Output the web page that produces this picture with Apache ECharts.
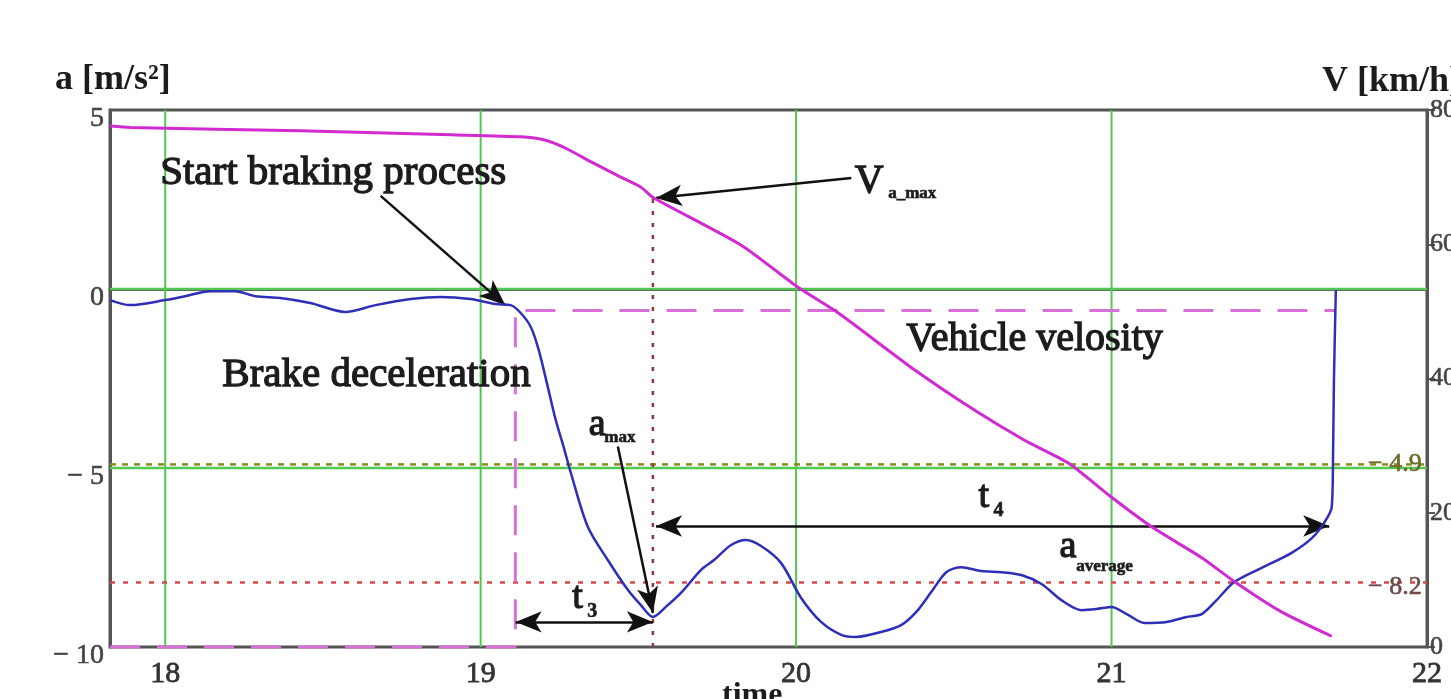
<!DOCTYPE html>
<html>
<head>
<meta charset="utf-8">
<script src="https://cdn.jsdelivr.net/npm/echarts@6/dist/echarts.min.js"></script>
<style>
  html, body { margin: 0; padding: 0; background: #ffffff; }
  #chart { width: 1451px; height: 699px; }
</style>
</head>
<body>
<div id="chart"></div>
<script>
// ---- time axis [s] ----
const timeMin = 17.825;
const timeMax = 22;
const timeTicks = [18, 19, 20, 21, 22];
const timeGridLines = [18, 19, 20, 21];

// ---- brake deceleration a [m/s²] ----
const accelTime = [17.825, 17.889, 18.0, 18.063, 18.143, 18.222, 18.286, 18.365, 18.46, 18.571,
  18.667, 18.778, 18.873, 18.968, 19.048, 19.095, 19.127, 19.159, 19.184, 19.213,
  19.238, 19.263, 19.286, 19.34, 19.403, 19.467, 19.508, 19.546, 19.587, 19.635,
  19.698, 19.74, 19.794, 19.841, 19.889, 19.952, 20.016, 20.079, 20.143, 20.19,
  20.27, 20.333, 20.381, 20.429, 20.476, 20.524, 20.587, 20.651, 20.714, 20.778,
  20.841, 20.905, 20.952, 21.0, 21.048, 21.105, 21.175, 21.238, 21.286, 21.333,
  21.39, 21.476, 21.571, 21.635, 21.673, 21.698, 21.702, 21.705, 21.711];
const accelValue = [-0.31, -0.45, -0.31, -0.2, -0.06, -0.06, -0.2, -0.25, -0.39, -0.64,
  -0.45, -0.28, -0.22, -0.28, -0.42, -0.45, -0.67, -1.06, -1.7, -2.74,
  -3.66, -4.41, -5.14, -6.65, -7.57, -8.41, -8.83, -9.16, -8.88, -8.49,
  -7.85, -7.57, -7.15, -7.01, -7.18, -7.65, -8.63, -9.3, -9.66, -9.72,
  -9.58, -9.39, -9.02, -8.46, -7.91, -7.77, -7.88, -7.91, -7.99, -8.24,
  -8.69, -8.97, -8.94, -8.88, -9.08, -9.33, -9.3, -9.16, -9.08, -8.69,
  -8.18, -7.79, -7.37, -6.96, -6.54, -6.09, -4.78, -2.54, -0.03];

// ---- vehicle velocity V [km/h] ----
const speedTime = [17.825, 17.889, 18.429, 18.905, 19.127, 19.206, 19.27, 19.349, 19.444, 19.508,
  19.549, 19.825, 20.006, 20.133, 20.375, 20.565, 20.724, 20.863, 21.0, 21.127,
  21.286, 21.397, 21.54, 21.698];
const speedValue = [77.6, 77.4, 76.9, 76.3, 76.0, 75.5, 74.3, 72.3, 70.0, 68.5,
  66.9, 59.9, 53.6, 49.8, 41.3, 35.3, 30.8, 27.4, 22.3, 17.9,
  13.3, 9.5, 5.2, 1.6];

// ---- characteristic values ----
const brakeStartTime = 19.11;     // start of the braking process
const brakeEndTime = 21.71;
const brakeThreshold = -0.6;      // a level marking the braking window
const aMaxTime = 19.546;          // instant of maximum deceleration
const vAtAMax = 66.9;             // velocity at that instant
const levelMarks = [-4.9, -8.2];  // marked deceleration levels
const accelGridLines = [0, -5];

const zip = (xs, ys) => xs.map((x, i) => [x, ys[i]]);

const SERIF = '"Liberation Serif", "DejaVu Serif", serif';
const GREEN = '#52c852';
const MAGENTA = '#d12ad1';
const BLUE = '#2e2eb8';

function refSeries(points, lineStyle, yAxisIndex, z) {
  return {
    type: 'line', data: points, yAxisIndex: yAxisIndex || 0, z: z || 1,
    showSymbol: false, symbol: 'none', silent: true, clip: false,
    lineStyle: Object.assign({ width: 2 }, lineStyle)
  };
}

const series = [];
// green grid
timeGridLines.forEach(t => series.push(refSeries([[t, -10], [t, 5]], { color: GREEN, width: 2 }, 0, 1)));
accelGridLines.forEach(a => series.push(refSeries([[timeMin, a], [timeMax, a]], { color: GREEN, width: 2.5 }, 0, 1)));
// marked levels
series.push(refSeries([[timeMin, levelMarks[0]], [timeMax, levelMarks[0]]],
  { color: '#8c8a1e', width: 2.5, type: [6, 6] }, 0, 2));
series.push(refSeries([[timeMin, levelMarks[1]], [timeMax, levelMarks[1]]],
  { color: '#d44a4a', width: 2.5, type: [5, 8] }, 0, 2));
// vertical at the maximum deceleration, up to the velocity curve
series.push(refSeries([[aMaxTime, 0], [aMaxTime, vAtAMax]],
  { color: '#8e3a3a', width: 2.5, type: [4, 8] }, 1, 2));
// braking window (magenta dashed)
series.push(refSeries([[timeMin, -10], [brakeStartTime, -10], [brakeStartTime, brakeThreshold], [brakeEndTime, brakeThreshold]],
  { color: '#d870d8', width: 3, type: [30, 17] }, 0, 3));

// measured curves
series.push({
  name: 'Brake deceleration', type: 'line', data: zip(accelTime, accelValue),
  yAxisIndex: 0, z: 5, showSymbol: false, symbol: 'none', smooth: 0.3,
  lineStyle: { color: BLUE, width: 2.5 }
});
series.push({
  name: 'Vehicle velosity', type: 'line', data: zip(speedTime, speedValue),
  yAxisIndex: 1, z: 5, showSymbol: false, symbol: 'none', smooth: 0.2,
  lineStyle: { color: MAGENTA, width: 3 }
});

// annotation arrows, in (time, a) units
const arrowSingle = (from, to) => [{ coord: from, symbol: 'none' }, { coord: to, symbol: 'arrow' }];
const arrowDouble = (from, to) => [{ coord: from, symbol: 'arrow' }, { coord: to, symbol: 'arrow' }];
series.push({
  type: 'line', data: [], yAxisIndex: 0, z: 6, silent: true,
  markLine: {
    silent: true, animation: false, precision: 4,
    symbolSize: [16, 26],
    label: { show: false },
    lineStyle: { color: '#111', width: 2.5, type: 'solid' },
    emphasis: { disabled: true },
    data: [
      arrowSingle([18.683, 2.60], [19.078, -0.45]),
      arrowSingle([20.175, 3.10], [19.556, 2.54]),
      arrowSingle([19.435, -4.40], [19.546, -9.05]),
      arrowDouble([19.111, -9.30], [19.546, -9.30]),
      arrowDouble([19.556, -6.62], [21.69, -6.62])
    ]
  }
});

const chart = echarts.init(document.getElementById('chart'), null, { renderer: 'canvas' });

const minusFmt = v => (v < 0 ? '\u2212 ' + Math.abs(v) : String(v));

chart.setOption({
  animation: false,
  backgroundColor: '#ffffff',
  grid: {
    left: 110, right: 24, top: 110, bottom: 52, containLabel: false, outerBoundsMode: 'none',
    show: true, borderColor: '#555', borderWidth: 3
  },
  xAxis: {
    type: 'value', min: timeMin, max: timeMax,
    axisLine: { show: true, lineStyle: { color: '#555', width: 3 } },
    axisTick: { show: false },
    splitLine: { show: false },
    axisLabel: {
      customValues: timeTicks, color: '#333', fontFamily: SERIF, fontSize: 30, margin: 12,
      textBorderColor: '#333', textBorderWidth: 0.8
    }
  },
  yAxis: [
    {
      type: 'value', min: -10, max: 5, interval: 5, position: 'left',
      axisLine: { show: true, onZero: false, lineStyle: { color: '#555', width: 3 } },
      axisTick: { show: false },
      splitLine: { show: false },
      axisLabel: {
        color: '#444', fontFamily: SERIF, fontSize: 28, margin: 6,
        formatter: minusFmt, verticalAlign: 'top', lineHeight: 18,
        textBorderColor: '#444', textBorderWidth: 0.6
      }
    },
    {
      type: 'value', min: 0, max: 80, interval: 20, position: 'right',
      axisLine: { show: true, onZero: false, lineStyle: { color: '#555', width: 3 } },
      axisTick: { show: true, inside: false, length: 8, lineStyle: { color: '#555', width: 2 } },
      splitLine: { show: false },
      axisLabel: {
        color: '#444', fontFamily: SERIF, fontSize: 26, margin: 3,
        textBorderColor: '#444', textBorderWidth: 0.6
      }
    }
  ],
  series: series
});

// ---- text annotations placed in (time, a) units ----
const toPx = (t, a) => chart.convertToPixel({ xAxisIndex: 0, yAxisIndex: 0 }, [t, a]);
const INK = '#1c1c1c';

function dataText(t, a, text, size, opts) {
  const p = toPx(t, a);
  const o = opts || {};
  return {
    type: 'text', x: p[0], y: p[1], z: 20, silent: true,
    style: {
      text: text, fill: o.fill || INK, fontFamily: SERIF, fontSize: size,
      fontWeight: o.weight || 'normal', align: o.align || 'left', verticalAlign: 'middle',
      stroke: o.stroke || INK, lineWidth: o.lineWidth == null ? 1.3 : o.lineWidth
    }
  };
}
function pxText(x, y, text, size, opts) {
  const o = opts || {};
  return {
    type: 'text', x: x, y: y, z: 20, silent: true,
    style: {
      text: text, fill: INK, fontFamily: SERIF, fontSize: size,
      fontWeight: o.weight || 'bold', align: 'left', verticalAlign: o.va || 'middle'
    }
  };
}

chart.setOption({
  graphic: [
    pxText(55, 80, 'a [m/s\u00B2]', 36),
    pxText(1322, 82, 'V [km/h]', 36),
    pxText(722, 680, 'time', 32, { va: 'top' }),
    dataText(17.984, 3.24, 'Start braking process', 41),
    dataText(18.181, -2.40, 'Brake deceleration', 41),
    dataText(20.349, -1.42, 'Vehicle velosity', 40),
    dataText(20.186, 2.99, 'V', 40),
    dataText(20.292, 2.66, 'a_max', 17, { weight: 'bold', lineWidth: 0.6 }),
    dataText(19.343, -3.80, 'a', 38),
    dataText(19.392, -4.14, 'max', 17, { weight: 'bold', lineWidth: 0.6 }),
    dataText(19.290, -8.62, 't', 38),
    dataText(19.338, -9.02, '3', 20, { weight: 'bold', lineWidth: 0.6 }),
    dataText(20.578, -5.82, 't', 38),
    dataText(20.626, -6.20, '4', 20, { weight: 'bold', lineWidth: 0.6 }),
    dataText(20.835, -7.22, 'a', 38),
    dataText(20.888, -7.76, 'average', 17, { weight: 'bold', lineWidth: 0.6 }),
    dataText(21.983, levelMarks[0], '\u2212 4.9', 26, { align: 'right', fill: '#6d6a2c', stroke: '#6d6a2c', lineWidth: 0.6 }),
    dataText(21.983, levelMarks[1] - 0.12, '\u2212 8.2', 26, { align: 'right', fill: '#6e4a4a', stroke: '#6e4a4a', lineWidth: 0.6 })
  ]
});
</script>
</body>
</html>
